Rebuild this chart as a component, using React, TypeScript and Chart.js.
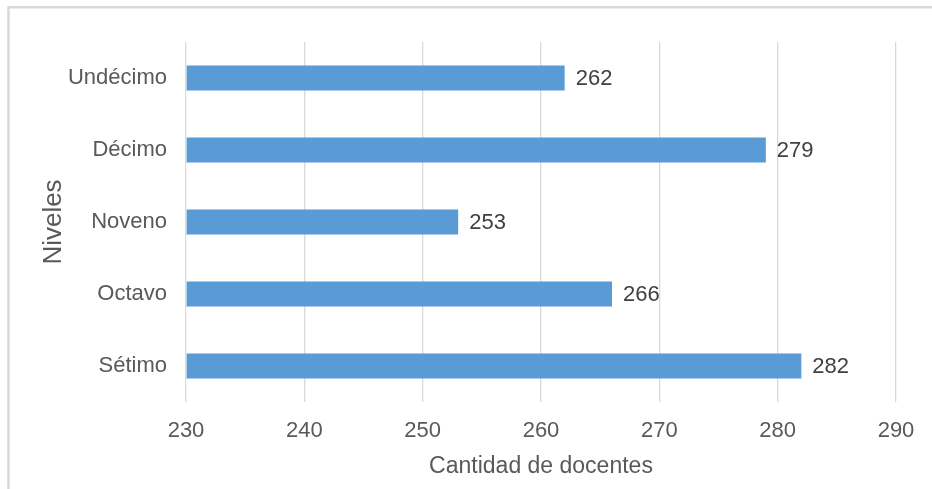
import React, { useEffect, useRef } from "react";
import { Chart, registerables } from "chart.js";

Chart.register(...registerables);

const categories = ["Undécimo", "Décimo", "Noveno", "Octavo", "Sétimo"];
const values = [262, 279, 253, 266, 282];
const xMin = 230;
const xMax = 290;
const xStep = 10;
const xTitle = "Cantidad de docentes";
const yTitle = "Niveles";

const FONT = "'Liberation Sans', Arial, sans-serif";

export default function App() {
  const ref = useRef<HTMLCanvasElement | null>(null);

  useEffect(() => {
    if (!ref.current) return;
    const frame = {
      id: "frame",
      beforeDraw(chart: any) {
        const ctx = chart.ctx;
        ctx.save();
        ctx.fillStyle = "#ffffff";
        ctx.fillRect(0, 0, chart.width, chart.height);
        ctx.strokeStyle = "#d9d9d9";
        ctx.lineWidth = 2.5;
        ctx.beginPath();
        ctx.moveTo(8.5, chart.height + 5);
        ctx.lineTo(8.5, 7.2);
        ctx.lineTo(chart.width + 5, 7.2);
        ctx.stroke();
        ctx.restore();
      },
    };
    const labels = {
      id: "valueLabels",
      afterDatasetsDraw(chart: any) {
        const ctx = chart.ctx;
        const meta = chart.getDatasetMeta(0);
        ctx.save();
        ctx.font = `22px ${FONT}`;
        ctx.fillStyle = "#404040";
        ctx.textAlign = "left";
        ctx.textBaseline = "middle";
        meta.data.forEach((bar: any, i: number) => {
          ctx.fillText(String(values[i]), bar.x + 11, bar.y + 1);
        });
        ctx.restore();
      },
    };
    const chart = new Chart(ref.current, {
      type: "bar",
      data: {
        labels: categories,
        datasets: [
          {
            data: values,
            base: xMin,
            backgroundColor: "#5B9BD5",
            borderWidth: 0,
            barPercentage: 0.35,
            categoryPercentage: 1,
          } as any,
        ],
      },
      options: {
        indexAxis: "y",
        animation: false,
        responsive: false,
        maintainAspectRatio: false,
        layout: { padding: { top: 42, right: 36, left: 0, bottom: 0 } },
        plugins: { legend: { display: false }, tooltip: { enabled: false } },
        scales: {
          x: {
            min: xMin,
            max: xMax,
            ticks: {
              stepSize: xStep,
              color: "#595959",
              font: { family: FONT, size: 22 },
              padding: 16,
            },
            grid: { color: "#d9d9d9", lineWidth: 1.3, drawTicks: false },
            border: { display: false },
            title: {
              display: true,
              text: xTitle,
              color: "#595959",
              font: { family: FONT, size: 23 },
              padding: { top: 0, bottom: 9 },
            },
            afterFit(scale: any) {
              scale.height = 87;
            },
          },
          y: {
            ticks: {
              color: "#595959",
              font: { family: FONT, size: 22 },
              padding: 19,
            },
            grid: { display: false, drawTicks: false },
            border: { display: false },
            title: {
              display: true,
              text: yTitle,
              color: "#595959",
              font: { family: FONT, size: 26 },
              padding: { top: 38, bottom: 0 },
            },
            afterFit(scale: any) {
              scale.width = 186;
            },
          },
        },
      },
      plugins: [frame, labels],
    });
    return () => chart.destroy();
  }, []);

  return (
    <div style={{ position: "absolute", left: 0, top: 0, width: 932, height: 489 }}>
      <canvas ref={ref} width={932} height={489} style={{ display: "block" }} />
    </div>
  );
}
